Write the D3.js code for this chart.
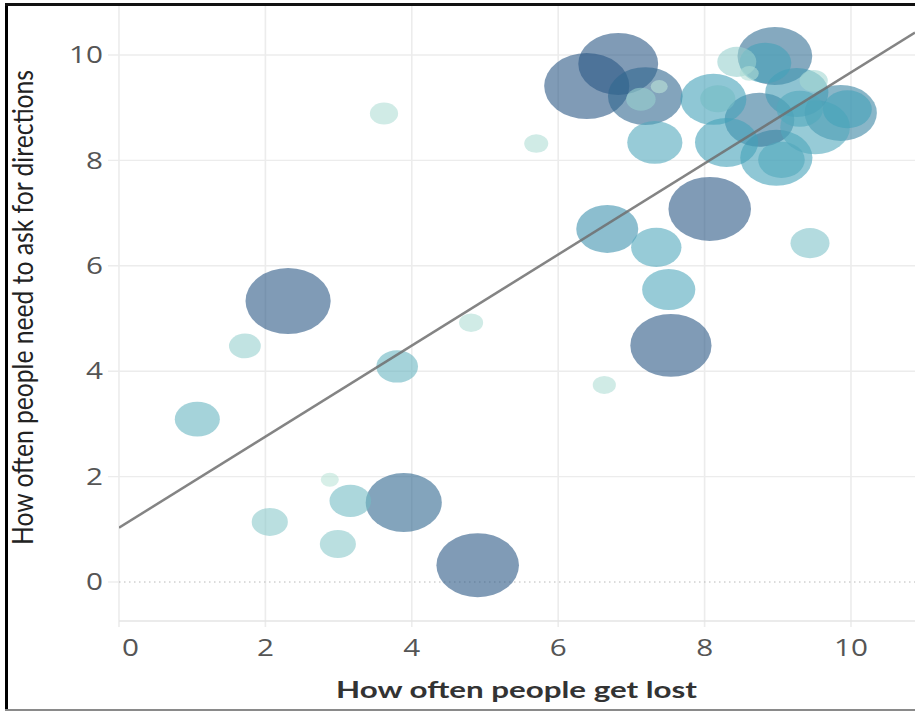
<!DOCTYPE html>
<html>
<head>
<meta charset="utf-8">
<script src="https://cdn.jsdelivr.net/npm/d3@7"></script>
<style>
  html, body { margin: 0; padding: 0; background: #fff; }
  svg { display: block; }
</style>
</head>
<body>
<svg id="chart" width="915" height="712"></svg>
<script>
// ---- data ----
const lost = [1.07,1.72,2.31,3.62,3.80,2.88,3.16,2.06,2.99,3.89,4.90,4.81,5.70,6.63,7.54,7.51,7.34,6.67,8.07,9.44,
              6.39,6.82,7.19,7.13,7.38,7.32,8.12,8.18,8.44,8.96,8.83,8.61,9.49,9.26,9.86,9.95,8.75,8.30,8.98,9.05,9.51,9.30];
const ask  = [3.09,4.48,5.33,8.89,4.09,1.94,1.54,1.14,0.72,1.51,0.32,4.92,8.32,3.74,4.49,5.55,6.35,6.70,7.08,6.43,
              9.41,9.83,9.22,9.16,9.40,8.34,9.16,9.17,9.87,9.98,9.85,9.65,9.51,9.29,8.90,8.97,8.77,8.34,8.05,8.01,8.63,8.98];
const sizeVal = [28,14,100,11,24,4.5,24,18,18,80,94,8,8,7.4,91,39,35,53,94,21,
                 100,88,77,12,4,42,60,17,21,77,37,5,11,55,72,33,67,55,72,30,67,30];
const colorVal = [0.35,0.15,1,0.05,0.35,0,0.3,0.2,0.2,0.9,1,0.05,0.05,0.05,1,0.45,0.45,0.6,1,0.25,
                  1,1,0.9,0.15,0,0.45,0.5,0.3,0.15,0.85,0.5,0.05,0.1,0.55,0.7,0.5,0.8,0.5,0.5,0.45,0.45,0.45];
const xTicks = [0,2,4,6,8,10];
const yTicks = [0,2,4,6,8,10];
const trendIntercept = 1.03;
const trendSlope = 0.864;
const xTitle = "How often people get lost";
const yTitle = "How often people need to ask for directions";

// ---- layout ----
const W = 915, H = 712;
const stretch = 1.29; // horizontal stretch of the original picture
const svg = d3.select("#chart");
const x = d3.scaleLinear().domain([0, 10]).range([119, 851]);
const y = d3.scaleLinear().domain([0, 10]).range([582, 55]);
const r = d3.scaleSqrt().domain([0, 100]).range([0, 33]);
const color = d3.scaleLinear().domain([0, 0.5, 1]).range(["#bce4d8", "#45a2b9", "#2c5985"]);
const plotTop = 4, plotBottom = 621, plotLeft = 119, plotRight = W;

// clip
svg.append("defs").append("clipPath").attr("id", "plotclip")
  .append("rect").attr("x", plotLeft).attr("y", plotTop)
  .attr("width", plotRight - plotLeft).attr("height", plotBottom - plotTop);

// grid
const grid = svg.append("g");
grid.selectAll("line.v").data(xTicks).join("line")
  .attr("x1", d => x(d)).attr("x2", d => x(d))
  .attr("y1", plotTop).attr("y2", 627)
  .attr("stroke", "#ececec").attr("stroke-width", 1.6);
grid.selectAll("line.h").data(yTicks.filter(d => d !== 0)).join("line")
  .attr("x1", 108).attr("x2", plotRight)
  .attr("y1", d => y(d)).attr("y2", d => y(d))
  .attr("stroke", "#ececec").attr("stroke-width", 1.4);
// zero line
grid.append("line").attr("x1", 108).attr("x2", plotLeft)
  .attr("y1", y(0)).attr("y2", y(0)).attr("stroke", "#ececec").attr("stroke-width", 1.4);
grid.append("line").attr("x1", plotLeft).attr("x2", plotRight)
  .attr("y1", y(0)).attr("y2", y(0))
  .attr("stroke", "#b8b8b8").attr("stroke-width", 1).attr("stroke-dasharray", "1.5,3.5");
// baseline
grid.append("line").attr("x1", plotLeft).attr("x2", plotRight)
  .attr("y1", plotBottom).attr("y2", plotBottom)
  .attr("stroke", "#e4e4e4").attr("stroke-width", 1.6);

// bubbles
const data = lost.map((d, i) => ({x: d, y: ask[i], s: sizeVal[i], c: colorVal[i]}))
  .sort((a, b) => b.s - a.s);
svg.append("g").attr("clip-path", "url(#plotclip)")
  .selectAll("ellipse").data(data).join("ellipse")
  .attr("cx", d => x(d.x)).attr("cy", d => y(d.y))
  .attr("rx", d => r(d.s) * stretch).attr("ry", d => r(d.s))
  .attr("fill", d => color(d.c)).attr("fill-opacity", 0.6);

// trend line
const xEnd = x.invert(plotRight);
svg.append("g").attr("clip-path", "url(#plotclip)")
  .append("line")
  .attr("x1", x(0)).attr("y1", y(trendIntercept))
  .attr("x2", x(xEnd)).attr("y2", y(trendIntercept + trendSlope * xEnd))
  .attr("stroke", "#6e6e6e").attr("stroke-opacity", 0.85).attr("stroke-width", 2.5);

// tick labels
const tickFont = "'Open Sans', 'DejaVu Sans', sans-serif";
svg.append("g").selectAll("text").data(yTicks).join("text")
  .attr("transform", d => `translate(103,${y(d)}) scale(${stretch},1)`)
  .attr("text-anchor", "end").attr("dy", "0.36em")
  .attr("font-family", tickFont).attr("font-size", 23).attr("fill", "#555")
  .text(d => d);
svg.append("g").selectAll("text").data(xTicks).join("text")
  .attr("transform", d => d === 0 ? `translate(122,648) scale(${stretch},1)` : `translate(${x(d)},648) scale(${stretch},1)`)
  .attr("text-anchor", d => d === 0 ? "start" : "middle").attr("dy", "0.36em")
  .attr("font-family", tickFont).attr("font-size", 23).attr("fill", "#555")
  .text(d => d);

// axis titles
svg.append("text")
  .attr("transform", `translate(516.5,698) scale(${stretch},1)`)
  .attr("text-anchor", "middle")
  .attr("font-family", "Lato, 'Open Sans', sans-serif").attr("font-weight", 700)
  .attr("font-size", 22).attr("fill", "#333")
  .attr("textLength", 361 / stretch).attr("lengthAdjust", "spacingAndGlyphs")
  .text(xTitle);
svg.append("text")
  .attr("transform", `translate(33,307.5) scale(${stretch},1) rotate(-90)`)
  .attr("text-anchor", "middle")
  .attr("font-family", "Lato, 'Open Sans', sans-serif").attr("font-weight", 400)
  .attr("font-size", 22).attr("fill", "#222")
  .attr("textLength", 475).attr("lengthAdjust", "spacingAndGlyphs")
  .text(yTitle);

// frame
svg.append("line").attr("x1", 6.5).attr("x2", 6.5).attr("y1", 3).attr("y2", 711)
  .attr("stroke", "#000").attr("stroke-width", 3);
svg.append("line").attr("x1", 5).attr("x2", W).attr("y1", 4.5).attr("y2", 4.5)
  .attr("stroke", "#111").attr("stroke-width", 3);
svg.append("line").attr("x1", 5).attr("x2", W).attr("y1", 710).attr("y2", 710)
  .attr("stroke", "#8a8a8a").attr("stroke-width", 2);
</script>
</body>
</html>
